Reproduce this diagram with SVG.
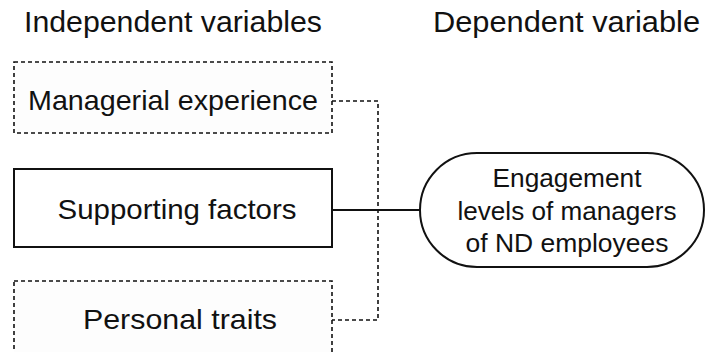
<svg xmlns="http://www.w3.org/2000/svg" width="706" height="352" viewBox="0 0 706 352">
<style>
text{font-family:"Liberation Sans",Arial,sans-serif;fill:#111}
.hdr{font-size:30px}
.lbl{font-size:28.5px;text-anchor:middle}
.pill{font-size:25.5px;text-anchor:middle}
.dash{fill:#fdfdfd;stroke:#111;stroke-width:1.6;stroke-dasharray:4 3}
.solid{fill:#fff;stroke:#111;stroke-width:2}
.conn{fill:none;stroke:#111}
</style>
<rect width="706" height="352" fill="#fff"/>
<text class="hdr" x="24" y="32" textLength="298" lengthAdjust="spacingAndGlyphs">Independent variables</text>
<text class="hdr" x="433" y="32" textLength="267" lengthAdjust="spacingAndGlyphs">Dependent variable</text>
<g id="connectors">
<polyline class="conn" points="332,101 378,101 378,320 332,320" stroke-width="1.6" stroke-dasharray="4 3"/>
<line class="conn" x1="332" y1="210" x2="420" y2="210" stroke-width="2"/>
</g>
<g id="managerial">
<rect class="dash" x="14" y="62" width="318" height="71"/>
<text class="lbl" x="173" y="110" textLength="290" lengthAdjust="spacingAndGlyphs">Managerial experience</text>
</g>
<g id="supporting">
<rect class="solid" x="14" y="169" width="318" height="78"/>
<text class="lbl" x="177" y="219" textLength="239" lengthAdjust="spacingAndGlyphs">Supporting factors</text>
</g>
<g id="personal">
<rect class="dash" x="14" y="281" width="318" height="80"/>
<text class="lbl" x="180" y="329" textLength="194" lengthAdjust="spacingAndGlyphs">Personal traits</text>
</g>
<g id="engagement">
<rect class="solid" x="420" y="153" width="284" height="114" rx="57" ry="57"/>
<text class="pill" x="567" y="187" textLength="149" lengthAdjust="spacingAndGlyphs">Engagement</text>
<text class="pill" x="567" y="220" textLength="219" lengthAdjust="spacingAndGlyphs">levels of managers</text>
<text class="pill" x="567" y="252" textLength="203" lengthAdjust="spacingAndGlyphs">of ND employees</text>
</g>
</svg>
